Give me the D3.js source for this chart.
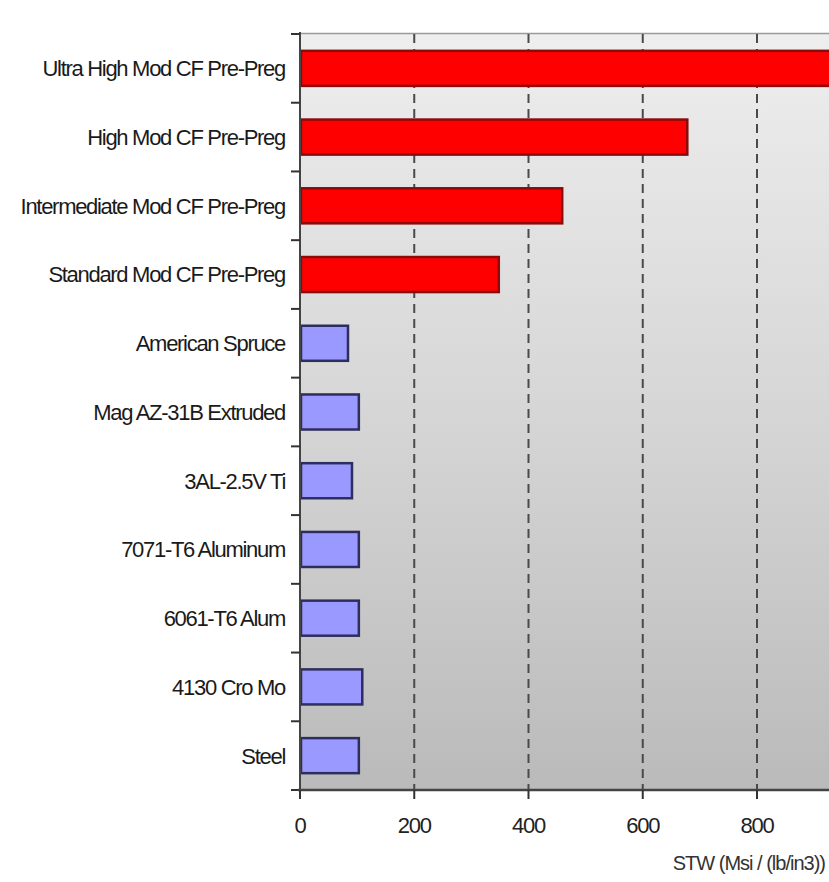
<!DOCTYPE html>
<html>
<head>
<meta charset="utf-8">
<script src="https://cdn.jsdelivr.net/npm/d3@7"></script>
<style>
  html, body { margin: 0; padding: 0; background: #ffffff; overflow: hidden; }
  svg { display: block; }
  text { font-family: "Liberation Sans", Arial, sans-serif; }
</style>
</head>
<body>
<svg id="chart" width="829" height="882"></svg>
<script>
const categories = [
  "Ultra High Mod CF Pre-Preg",
  "High Mod CF Pre-Preg",
  "Intermediate Mod CF Pre-Preg",
  "Standard Mod CF Pre-Preg",
  "American Spruce",
  "Mag AZ-31B Extruded",
  "3AL-2.5V Ti",
  "7071-T6 Aluminum",
  "6061-T6 Alum",
  "4130 Cro Mo",
  "Steel"
];
const values = [960, 678, 459, 348, 84, 103, 91, 103, 103, 109, 103];
const groups = ["cf", "cf", "cf", "cf", "metal", "metal", "metal", "metal", "metal", "metal", "metal"];
const xTicks = [0, 200, 400, 600, 800];
const xTitle = "STW (Msi / (lb/in3))";

(function () {
const svg = d3.select("#chart");
const W = 829;
const mLeft = 300, mTop = 34, mBottom = 790;

const x = d3.scaleLinear().domain([0, 800]).range([mLeft, 757]);
const y = d3.scaleBand().domain(categories).range([mTop, mBottom]).paddingInner(0.49).paddingOuter(0.245);

const defs = svg.append("defs");
const bg = defs.append("linearGradient").attr("id", "bg").attr("x1", 0).attr("y1", 0).attr("x2", 0).attr("y2", 1);
bg.append("stop").attr("offset", "0%").attr("stop-color", "#eeeeee");
bg.append("stop").attr("offset", "50%").attr("stop-color", "#d6d6d6");
bg.append("stop").attr("offset", "100%").attr("stop-color", "#bababa");

svg.append("rect")
  .attr("x", mLeft).attr("y", mTop)
  .attr("width", W - mLeft + 20).attr("height", mBottom - mTop)
  .attr("fill", "url(#bg)");

svg.append("line")
  .attr("x1", mLeft).attr("x2", W).attr("y1", mTop - 0.5).attr("y2", mTop - 0.5)
  .attr("stroke", "#9a9a9a").attr("stroke-width", 1.5);

svg.append("g").selectAll("line")
  .data(xTicks.filter(d => d > 0))
  .join("line")
  .attr("x1", d => x(d)).attr("x2", d => x(d))
  .attr("y1", mTop).attr("y2", mBottom)
  .attr("stroke", "#4a4a4a").attr("stroke-width", 2)
  .attr("stroke-dasharray", "9,6");

const colorFill = { cf: "#ff0000", metal: "#9999ff" };
const colorStroke = { cf: "#8b0a0a", metal: "#2e2e5e" };
svg.append("g").selectAll("rect")
  .data(categories)
  .join("rect")
  .attr("x", x(0) + 1)
  .attr("y", d => y(d))
  .attr("width", (d, i) => x(values[i]) - x(0) - 1)
  .attr("height", y.bandwidth())
  .attr("fill", (d, i) => colorFill[groups[i]])
  .attr("stroke", (d, i) => colorStroke[groups[i]])
  .attr("stroke-width", 2.5);

const yAxisG = svg.append("g");
yAxisG.append("line")
  .attr("x1", mLeft).attr("x2", mLeft).attr("y1", mTop - 2).attr("y2", mBottom)
  .attr("stroke", "#444").attr("stroke-width", 2);
const boundaries = d3.range(categories.length + 1).map(i => mTop + i * y.step());
yAxisG.selectAll(".ytick")
  .data(boundaries)
  .join("line")
  .attr("class", "ytick")
  .attr("x1", mLeft - 9).attr("x2", mLeft)
  .attr("y1", d => d).attr("y2", d => d)
  .attr("stroke", "#333").attr("stroke-width", 2);
yAxisG.selectAll(".ylabel")
  .data(categories)
  .join("text")
  .attr("class", "ylabel")
  .attr("x", 285)
  .attr("y", d => y(d) + y.bandwidth() / 2)
  .attr("dy", "0.36em")
  .attr("text-anchor", "end")
  .attr("font-size", 22)
  .attr("letter-spacing", "-1.3px")
  .attr("fill", "#1a1a1a")
  .text(d => d);

const xAxisG = svg.append("g");
xAxisG.append("line")
  .attr("x1", mLeft - 2).attr("x2", W).attr("y1", mBottom).attr("y2", mBottom)
  .attr("stroke", "#444").attr("stroke-width", 2.5);
xAxisG.selectAll(".xtick")
  .data(xTicks)
  .join("line")
  .attr("class", "xtick")
  .attr("x1", d => x(d)).attr("x2", d => x(d))
  .attr("y1", mBottom).attr("y2", mBottom + 9)
  .attr("stroke", "#333").attr("stroke-width", 2);
xAxisG.selectAll(".xlabel")
  .data(xTicks)
  .join("text")
  .attr("class", "xlabel")
  .attr("x", d => x(d))
  .attr("y", 833)
  .attr("text-anchor", "middle")
  .attr("font-size", 22)
  .attr("letter-spacing", "-1.2px")
  .attr("fill", "#222")
  .text(d => d);

svg.append("text")
  .attr("x", 825)
  .attr("y", 870)
  .attr("text-anchor", "end")
  .attr("font-size", 20)
  .attr("letter-spacing", "-1px")
  .attr("fill", "#333")
  .text(xTitle);
})();
</script>
</body>
</html>
